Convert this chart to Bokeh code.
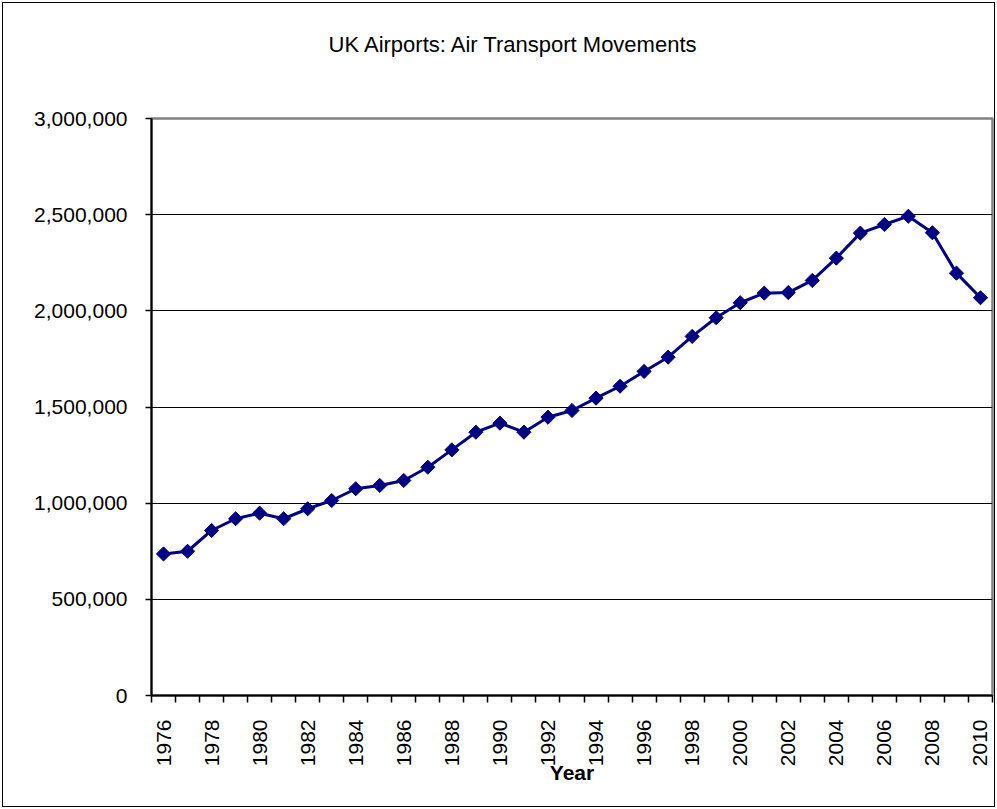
import math
from bokeh.plotting import figure
from bokeh.models import (Range1d, FixedTicker, NumeralTickFormatter, ColumnDataSource,
                          Title)
from bokeh.embed import file_html
from bokeh.resources import INLINE

# ---- data ----
years = list(range(1976, 2011))
movements = [736000, 750000, 858000, 919000, 948000, 919000, 971000, 1014000, 1075000,
             1092000, 1118000, 1187000, 1277000, 1369000, 1416000, 1369000, 1447000,
             1482000, 1546000, 1608000, 1685000, 1759000, 1867000, 1964000, 2042000,
             2092000, 2095000, 2158000, 2274000, 2404000, 2449000, 2492000, 2406000,
             2196000, 2068000]
y_ticks = [0, 500000, 1000000, 1500000, 2000000, 2500000, 3000000]
title_text = "UK Airports: Air Transport Movements"
x_title = "Year"

FONT = "Liberation Sans"
FS = "21px"
W, H = 997, 809

p = figure(width=W, height=H, output_backend="svg", toolbar_location=None,
           x_range=Range1d(years[0] - 0.5, years[-1] + 0.5),
           y_range=Range1d(y_ticks[0], y_ticks[-1]),
           min_border_left=151, min_border_right=5, min_border_top=118,
           min_border_bottom=114)

# main title
p.title.text = title_text
p.title.text_font = FONT
p.title.text_font_size = "22px"
p.title.text_font_style = "normal"
p.title.text_color = "black"
p.title.align = "left"
p.title.offset = 177
p.title.standoff = 10

# spacer between plot area and title (added panel sits nearer the plot area)
p.add_layout(Title(text=" ", text_font_size="1px", standoff=54), "above")

p.background_fill_color = "white"
p.border_fill_color = None
p.outline_line_color = "#808080"
p.outline_line_width = 2.5
p.styles = {"outline": "1px solid #000", "outline-offset": "-3px",
            "background-color": "white"}

# x axis: ticks at category boundaries, labels every other year at centres
xa = p.xaxis[0]
xa.ticker = FixedTicker(ticks=years[::2],
                        minor_ticks=[y - 0.5 for y in years] + [years[-1] + 0.5])
xa.major_tick_in = 0
xa.major_tick_out = 0
xa.minor_tick_in = 0
xa.minor_tick_out = 7
xa.minor_tick_line_color = "black"
xa.minor_tick_line_width = 1.5
xa.major_label_orientation = math.pi / 2
xa.major_label_text_font = FONT
xa.major_label_text_font_size = FS
xa.major_label_text_color = "black"
xa.major_label_standoff = 17
xa.axis_line_color = "black"
xa.axis_line_width = 2
xa.axis_label = x_title
xa.axis_label_text_font = FONT
xa.axis_label_text_font_size = FS
xa.axis_label_text_font_style = "bold"
xa.axis_label_text_color = "black"
xa.axis_label_standoff = -8

ya = p.yaxis[0]
ya.ticker = FixedTicker(ticks=y_ticks)
ya.formatter = NumeralTickFormatter(format="0,0")
ya.major_tick_in = 0
ya.major_tick_out = 6
ya.minor_tick_in = 0
ya.minor_tick_out = 0
ya.major_tick_line_color = "black"
ya.major_tick_line_width = 1.5
ya.major_label_text_font = FONT
ya.major_label_text_font_size = FS
ya.major_label_text_color = "black"
ya.major_label_standoff = 18
ya.axis_line_color = "black"
ya.axis_line_width = 2

p.xgrid.grid_line_color = None
p.ygrid.grid_line_color = "black"
p.ygrid.grid_line_width = 1

src = ColumnDataSource(dict(x=years, y=movements))
p.line("x", "y", source=src, line_color="#000080", line_width=3)
p.scatter("x", "y", source=src, marker="square", angle=math.pi / 4, size=10,
          fill_color="#000080", line_color="#000080")

open("out.html", "w").write(file_html(p, INLINE))
